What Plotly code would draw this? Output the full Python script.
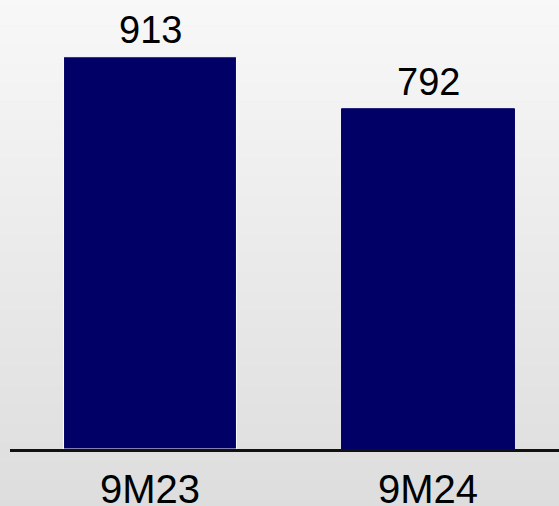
import plotly.graph_objects as go

categories = ["9M23", "9M24"]
values = [913, 792]
bar_color = "#000066"
outline_colors = ["#ffffff", "#000066"]

W, H = 559, 506
ML, MR, MT, MB = 10, 0, 0, 57
FONT = "Arial, Liberation Sans, sans-serif"

fig = go.Figure()
fig.add_trace(go.Bar(
    x=categories, y=values,
    width=0.622,
    marker=dict(color=bar_color, line=dict(color=outline_colors, width=1)),
    cliponaxis=False,
    hoverinfo="skip",
))

# value labels above the bars
for c, v in zip(categories, values):
    fig.add_annotation(
        x=c, y=v, xref="x", yref="y", text=str(v),
        showarrow=False, yanchor="bottom", yshift=4,
        font=dict(family=FONT, size=38, color="#000000"),
    )

# vertical gradient background as stacked stripes
plot_w = W - ML - MR
plot_h = H - MT - MB
n = 80
top_c = (248, 248, 248)
bot_c = (221, 221, 221)
shapes = []
for i in range(n):
    t = (i + 0.5) / n
    c = tuple(round(top_c[k] + (bot_c[k] - top_c[k]) * t) for k in range(3))
    y_top_px = H * i / n
    y_bot_px = H * (i + 1) / n + 0.5
    y0 = (H - MB - y_bot_px) / plot_h
    y1 = (H - MB - y_top_px) / plot_h
    shapes.append(dict(
        type="rect", xref="paper", yref="paper",
        x0=-ML / plot_w, x1=1 + MR / plot_w, y0=y0, y1=y1,
        fillcolor="rgb(%d,%d,%d)" % c, line=dict(width=0), layer="below",
    ))

fig.update_layout(
    width=W, height=H,
    margin=dict(l=ML, r=MR, t=MT, b=MB, pad=0, autoexpand=False),
    paper_bgcolor="#e6e6e6",
    plot_bgcolor="rgba(0,0,0,0)",
    showlegend=False,
    shapes=shapes,
    font=dict(family=FONT, color="#000000"),
    xaxis=dict(
        range=[-(150 - ML) / 278, (W - 150) / 278],
        automargin=False,
        showline=True, linecolor="#111111", linewidth=2.5,
        showgrid=False, zeroline=False,
        ticks="outside", ticklen=3, tickcolor="rgba(0,0,0,0)",
        tickfont=dict(family=FONT, size=40, color="#000000"),
        fixedrange=True,
    ),
    yaxis=dict(
        range=[0, 1045],
        automargin=False,
        visible=False, showgrid=False, zeroline=False,
        fixedrange=True,
    ),
)

fig.write_html(
    "out.html",
    config={"displayModeBar": False},
    post_script=(
        "document.documentElement.style.margin='0';"
        "document.body.style.margin='0';document.body.style.padding='0';"
        "document.body.style.overflow='hidden';"
        "document.documentElement.style.background='#dddddd';"
        "document.body.style.background='#dddddd';"
    ),
)
